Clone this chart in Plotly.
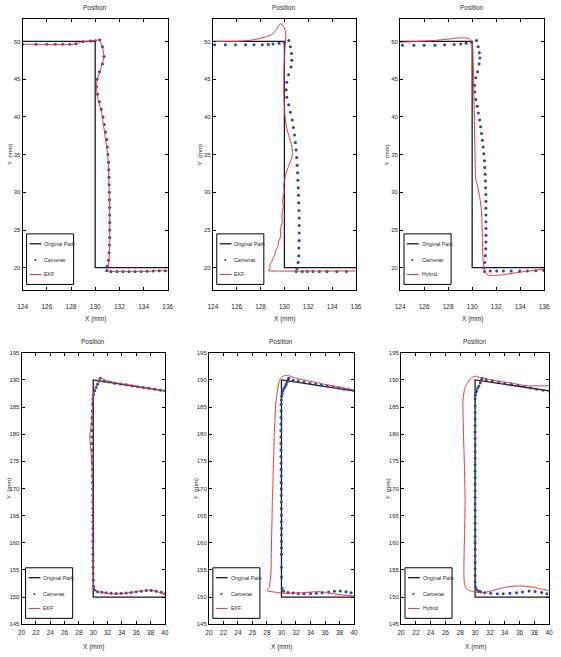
import plotly.graph_objects as go

W, H = 561, 657

# ---------------- data ----------------
top_xticks = [124, 126, 128, 130, 132, 134, 136]
top_yticks = [20, 25, 30, 35, 40, 45, 50]
bot_xticks = [20, 22, 24, 26, 28, 30, 32, 34, 36, 38, 40]
bot_yticks = [145, 150, 155, 160, 165, 170, 175, 180, 185, 190, 195]

path_top_x = [124, 130, 130, 136]
path_top_y = [50, 50, 20, 20]
path_bot_x = [40, 30, 30, 40]
path_bot_y = [188, 190, 150, 150]

# panel 1 (top-left, EKF)
cam1_x = [124.0, 125.1, 126.0, 126.7, 127.3, 127.9, 128.4, 129.0, 129.6, 130.0, 130.38,
          130.6, 130.73, 130.6, 130.35, 130.15, 130.1, 130.2, 130.35, 130.5, 130.65, 130.75,
          130.85, 130.95, 131.0, 131.05, 131.1, 131.12, 131.14, 131.15, 131.17, 131.18, 131.2,
          131.2, 131.2, 131.2, 131.2, 131.18, 131.15, 131.1, 131.0, 130.95,
          131.3, 131.8, 132.3, 132.8, 133.3, 133.8, 134.3, 134.8, 135.3, 135.8]
cam1_y = [49.64, 49.64, 49.64, 49.64, 49.64, 49.64, 49.7, 49.95, 50.05, 50.1, 50.18,
          49.3, 48.0, 47.0, 46.0, 45.0, 44.0, 43.0, 42.0, 41.0, 40.0, 39.0,
          38.0, 37.0, 36.0, 35.0, 34.0, 33.0, 32.0, 31.0, 30.0, 29.0, 28.0,
          27.0, 26.0, 25.0, 24.0, 23.0, 22.0, 21.0, 20.2, 19.6,
          19.5, 19.5, 19.5, 19.5, 19.5, 19.5, 19.52, 19.55, 19.6, 19.6]
est1_x = [124.0, 128.3, 128.9, 129.6, 130.38, 130.6, 130.73, 130.5, 130.2, 130.1, 130.2,
          130.5, 130.8, 131.06, 131.14, 131.2, 131.2, 131.14, 131.0, 130.95, 131.3, 134.0, 135.3, 136.0]
est1_y = [49.64, 49.64, 49.95, 50.05, 50.18, 49.3, 47.96, 46.6, 45.1, 44.0, 42.6,
          40.8, 37.7, 34.6, 31.1, 26.6, 23.1, 20.8, 19.9, 19.6, 19.5, 19.5, 19.6, 19.6]

# panel 2 (top-middle, EKF)
cam2_x = [124.15, 125.05, 125.9, 126.75, 127.45, 128.15, 128.65, 129.05, 129.55, 130.0, 130.37,
          130.5, 130.6, 130.62, 130.55, 130.35, 130.2, 130.15, 130.2, 130.35, 130.5, 130.65,
          130.75, 130.85, 130.92, 130.98, 131.03, 131.07, 131.1, 131.13, 131.16, 131.18, 131.2,
          131.22, 131.24, 131.24, 131.24, 131.24, 131.22, 131.2, 131.15, 131.05, 130.98,
          131.5, 131.93, 132.4, 132.93, 133.57, 134.39, 135.2]
cam2_y = [49.56, 49.56, 49.56, 49.56, 49.56, 49.58, 49.6, 49.65, 49.75, 49.9, 50.13,
          49.3, 48.4, 47.5, 46.6, 45.6, 44.6, 43.6, 42.6, 41.6, 40.6, 39.6,
          38.6, 37.6, 36.6, 35.6, 34.6, 33.6, 32.6, 31.6, 30.6, 29.6, 28.6,
          27.6, 26.6, 25.6, 24.6, 23.6, 22.6, 21.6, 20.7, 19.9, 19.5,
          19.5, 19.5, 19.5, 19.5, 19.5, 19.5, 19.5]
est2_x = [124.0, 125.5, 126.5, 127.3, 127.9, 128.5, 128.9, 129.2, 129.45, 129.6, 129.8, 130.0,
          130.12, 130.1, 130.02, 129.97, 129.96, 129.98, 130.05, 130.2, 130.4, 130.6, 130.68,
          130.6, 130.35, 130.1, 129.95, 129.98, 129.85, 129.9, 129.78, 129.82, 129.65, 129.7,
          129.5, 129.45, 129.25, 129.2, 129.0, 128.95, 128.75, 128.8, 128.68, 129.5, 131.0,
          133.0, 136.0]
est2_y = [50.0, 50.0, 50.05, 50.2, 50.4, 50.65, 50.9, 51.3, 51.9, 52.3, 52.3, 51.8,
          51.0, 50.2, 48.5, 46.5, 44.0, 42.0, 40.0, 38.5, 37.3, 36.3, 35.3,
          34.5, 33.5, 32.3, 31.0, 30.0, 29.0, 28.0, 27.0, 26.0, 25.0, 24.2,
          23.4, 22.8, 22.2, 21.7, 21.2, 20.8, 20.3, 20.0, 19.6, 19.56, 19.56,
          19.56, 19.56]

# panel 3 (top-right, Hybrid)
cam3_x = [124.2, 125.15, 126.0, 126.9, 127.7, 128.5, 129.05, 129.5, 129.95, 130.36,
          130.5, 130.6, 130.64, 130.58, 130.45, 130.3, 130.2, 130.22, 130.3, 130.42, 130.52,
          130.62, 130.7, 130.78, 130.85, 130.92, 130.97, 131.02, 131.05, 131.08, 131.1, 131.12,
          131.14, 131.15, 131.15, 131.15, 131.15, 131.15, 131.15, 131.15, 131.13, 131.1, 131.05,
          130.98, 131.04, 131.5, 132.05, 132.6, 133.25, 133.95, 134.6, 135.3, 135.95]
cam3_y = [49.5, 49.5, 49.5, 49.5, 49.55, 49.6, 49.65, 49.75, 49.9, 50.13,
          49.3, 48.5, 47.8, 47.0, 46.0, 45.2, 44.2, 43.3, 42.3, 41.4, 40.5,
          39.6, 38.7, 37.8, 36.9, 36.0, 35.1, 34.2, 33.3, 32.4, 31.5, 30.6,
          29.7, 28.8, 27.9, 27.0, 26.1, 25.2, 24.3, 23.4, 22.5, 21.6, 20.7,
          20.0, 19.5, 19.55, 19.55, 19.55, 19.55, 19.55, 19.55, 19.6, 19.65]
est3_x = [124.0, 125.4, 126.5, 127.3, 128.2, 128.7, 129.2, 129.7, 129.95, 130.05, 130.08,
          130.12, 130.15, 130.2, 130.25, 130.3, 130.45, 130.6, 130.75, 130.82, 130.85, 130.88,
          130.95, 131.1, 131.4, 132.2, 133.5, 134.9, 136.0]
est3_y = [49.9, 50.0, 50.1, 50.2, 50.35, 50.45, 50.5, 50.4, 50.1, 49.3, 47.5,
          45.0, 42.5, 38.0, 34.0, 31.8, 30.8, 29.6, 28.0, 26.0, 24.0, 22.0,
          20.2, 19.3, 19.0, 19.0, 19.3, 19.6, 19.8]

# panel 4 (bottom-left, EKF)
cam4_x = [40.0, 39.4, 38.6, 37.8, 37.0, 36.2, 35.4, 34.6, 33.8, 33.0, 32.2, 31.5, 30.97,
          30.8, 30.6, 30.4, 30.2, 30.05, 29.95, 29.9, 29.88, 29.85, 29.83, 29.82, 29.82,
          29.83, 29.85, 29.87, 29.88, 29.9, 29.9, 29.9, 29.91, 29.92, 29.93, 29.93, 29.94,
          29.94, 29.95, 29.95, 29.95, 29.96, 29.96, 29.96, 29.97, 29.98, 30.0, 30.05, 30.2,
          30.6, 31.2, 31.8, 32.5, 33.2, 33.9, 34.6, 35.3, 36.0, 36.7, 37.4, 38.1, 38.8, 39.5, 40.0]
cam4_y = [188.0, 188.1, 188.3, 188.45, 188.6, 188.75, 188.95, 189.1, 189.25, 189.4, 189.6, 189.75, 190.3,
          189.8, 189.2, 188.6, 188.0, 187.3, 186.5, 185.5, 184.3, 183.1, 181.9, 180.7, 179.5,
          178.3, 177.1, 175.9, 174.7, 173.5, 172.3, 171.1, 169.9, 168.7, 167.5, 166.3, 165.1,
          163.9, 162.7, 161.5, 160.3, 159.1, 157.9, 156.7, 155.5, 154.3, 153.1, 152.0, 151.3,
          151.0, 150.9, 150.8, 150.7, 150.65, 150.7, 150.75, 150.85, 151.0, 151.1, 151.2, 151.2, 151.1, 150.9, 150.6]
est4_x = [40.0, 38.0, 36.0, 34.0, 32.0, 31.0, 30.7, 30.3, 30.0, 29.88, 29.8, 29.65, 29.52,
          29.6, 29.75, 29.85, 29.9, 29.93, 29.95, 29.97, 30.0, 30.1, 30.4, 31.0, 32.0, 33.0,
          34.0, 35.0, 36.0, 37.0, 38.0, 39.0, 40.0]
est4_y = [188.0, 188.45, 188.85, 189.3, 189.8, 190.35, 189.8, 188.5, 187.2, 185.0, 183.0, 181.0, 179.6,
          178.0, 176.0, 173.0, 170.0, 165.0, 160.0, 156.0, 153.0, 151.8, 151.2, 150.9, 150.7, 150.6,
          150.6, 150.8, 151.0, 151.2, 151.3, 151.0, 150.5]

# panel 5 (bottom-middle, EKF)
cam5_x = [40.0, 39.3, 38.6, 37.9, 37.1, 36.3, 35.5, 34.7, 33.9, 33.1, 32.3, 31.6, 31.0,
          30.9, 30.8, 30.65, 30.5, 30.35, 30.2, 30.1, 30.02, 29.97, 29.95, 29.94, 29.93, 29.92,
          29.92, 29.92, 29.92, 29.93, 29.93, 29.94, 29.94, 29.95, 29.95, 29.96, 29.96, 29.97,
          29.97, 29.98, 29.98, 29.99, 29.99, 30.0, 30.0, 30.0, 30.0, 30.0, 30.1, 30.3,
          30.9, 31.6, 32.3, 33.1, 34.0, 34.8, 35.6, 36.5, 37.3, 38.1, 38.9, 39.6]
cam5_y = [188.0, 188.2, 188.3, 188.5, 188.7, 188.9, 189.05, 189.25, 189.4, 189.6, 189.8, 189.95, 190.3,
          190.0, 189.6, 189.2, 188.8, 188.4, 188.0, 187.5, 187.0, 186.3, 185.5, 184.3, 183.1, 181.9,
          180.7, 179.5, 178.3, 177.1, 175.9, 174.7, 173.5, 172.3, 171.1, 169.9, 168.7, 167.5,
          166.3, 165.1, 163.9, 162.7, 161.5, 160.3, 159.1, 157.9, 155.5, 153.7, 151.6, 151.1,
          150.85, 150.75, 150.65, 150.6, 150.65, 150.7, 150.8, 150.95, 151.1, 151.15, 151.0, 150.8]
est5_x = [40.0, 38.5, 37.2, 35.9, 34.95, 33.8, 32.7, 31.9, 31.35, 30.95, 30.68, 30.4, 30.2,
          29.9, 29.7, 29.46, 29.3, 29.19, 29.1, 29.0, 28.95, 28.87, 28.82, 28.74, 28.7, 28.65,
          28.6, 28.56, 28.45, 28.3, 28.1, 28.0, 28.2, 28.65, 29.5, 30.45, 31.5, 32.7, 33.8,
          34.95, 36.0, 37.2, 38.5, 40.0]
est5_y = [188.1, 188.55, 188.9, 189.2, 189.5, 189.8, 190.1, 190.35, 190.6, 190.8, 190.85, 190.8, 190.65,
          190.3, 189.8, 188.3, 186.8, 185.2, 182.5, 179.8, 176.7, 173.7, 170.5, 167.6, 164.5, 161.5,
          158.0, 154.8, 153.0, 151.8, 151.4, 151.2, 151.05, 151.0, 150.85, 150.7, 150.75, 150.8, 150.9,
          151.0, 150.9, 150.6, 150.4, 150.2]

# panel 6 (bottom-right, Hybrid)
cam6_x = [40.0, 39.2, 38.3, 37.5, 36.6, 35.8, 34.9, 34.0, 33.2, 32.3, 31.5, 30.96,
          30.85, 30.7, 30.52, 30.35, 30.2, 30.09, 30.03, 30.0, 30.0, 30.0, 30.0, 30.0, 30.0,
          30.0, 30.0, 30.0, 30.0, 30.0, 30.0, 30.0, 30.0, 30.0, 30.0, 30.0, 30.0, 30.0, 30.0,
          30.0, 30.0, 30.0, 30.0, 30.0, 30.0, 30.0, 30.0, 30.0, 30.05, 30.2, 30.5, 30.74,
          31.3, 32.1, 33.0, 33.8, 34.7, 35.6, 36.4, 37.3, 38.1, 39.0, 39.7]
cam6_y = [187.95, 188.1, 188.3, 188.5, 188.75, 189.0, 189.2, 189.4, 189.6, 189.85, 190.05, 190.3,
          190.0, 189.5, 188.9, 188.5, 188.0, 187.7, 187.2, 186.5, 185.2, 184.0, 182.8, 181.6, 180.4,
          179.2, 178.0, 176.8, 175.6, 174.4, 173.2, 172.0, 170.8, 169.6, 168.4, 167.2, 166.0, 164.8, 163.6,
          162.4, 161.2, 160.0, 158.8, 157.6, 156.4, 155.2, 154.0, 152.8, 151.9, 151.4, 151.1, 151.0,
          150.8, 150.7, 150.6, 150.6, 150.7, 150.8, 150.95, 151.15, 151.05, 150.85, 150.6]
est6_x = [40.0, 38.5, 37.26, 36.0, 35.1, 34.0, 32.9, 31.8, 30.7, 30.09, 29.65, 29.3, 29.0,
          28.75, 28.57, 28.45, 28.35, 28.38, 28.43, 28.5, 28.57, 28.62, 28.65, 28.62, 28.57,
          28.52, 28.48, 28.5, 28.57, 28.75, 29.0, 29.4, 29.87, 30.74, 31.8, 32.9, 34.0, 35.1,
          36.0, 36.8, 37.7, 38.6, 39.3, 40.0]
est6_y = [188.9, 188.9, 188.9, 189.1, 189.4, 189.6, 189.8, 190.1, 190.4, 190.7, 190.5, 190.1, 189.5,
          188.9, 188.3, 187.2, 185.9, 183.0, 179.8, 176.8, 173.7, 170.6, 167.6, 164.5, 161.5,
          158.5, 155.4, 153.6, 152.3, 151.7, 151.4, 151.15, 151.0, 150.8, 151.0, 151.4, 151.8, 152.0,
          152.05, 152.0, 151.85, 151.6, 151.4, 151.2]

series_names = ["Original Path", "Cameras"]
est_names = ["EKF", "EKF", "Hybrid", "EKF", "EKF", "Hybrid"]

# ---------------- styling ----------------
FONT = "Liberation Sans Narrow, Arial Narrow, Liberation Sans, Arial, sans-serif"
TXT = "#2a2a2a"
C_PATH = "#1a1a1a"
C_CAM = "#2b44a0"
C_EST = "#e8333f"

panels = [
    dict(cx=cam1_x, cy=cam1_y, ex=est1_x, ey=est1_y, px=path_top_x, py=path_top_y, row="top",
         box=(18, 166, 16, 290)),
    dict(cx=cam2_x, cy=cam2_y, ex=est2_x, ey=est2_y, px=path_top_x, py=path_top_y, row="top",
         box=(212, 358, 16, 290)),
    dict(cx=cam3_x, cy=cam3_y, ex=est3_x, ey=est3_y, px=path_top_x, py=path_top_y, row="top",
         box=(403, 550, 16, 290)),
    dict(cx=cam4_x, cy=cam4_y, ex=est4_x, ey=est4_y, px=path_bot_x, py=path_bot_y, row="bot",
         box=(17, 163, 353, 627)),
    dict(cx=cam5_x, cy=cam5_y, ex=est5_x, ey=est5_y, px=path_bot_x, py=path_bot_y, row="bot",
         box=(208, 356, 353, 627)),
    dict(cx=cam6_x, cy=cam6_y, ex=est6_x, ey=est6_y, px=path_bot_x, py=path_bot_y, row="bot",
         box=(404, 555, 353, 627)),
]

fig = go.Figure()
layout = dict(width=W, height=H, margin=dict(l=0, r=0, t=0, b=0),
              paper_bgcolor="white", plot_bgcolor="white", showlegend=False,
              font=dict(family=FONT, size=6.5, color=TXT))
shapes = []
annotations = []


def note(text, xref, yref, x, y, size=6.5, color=TXT, xanchor="center", angle=0):
    return dict(text=text, xref=xref, yref=yref, x=x, y=y, xanchor=xanchor, yanchor="middle",
                textangle=angle, showarrow=False, font=dict(family=FONT, size=size, color=color))


for i, p in enumerate(panels):
    n = i + 1
    sfx = "" if n == 1 else str(n)
    xa, ya = "x" + sfx, "y" + sfx
    l, r, t, b = p["box"]
    wpx, h = r - l, b - t
    fig.add_trace(go.Scatter(x=p["px"], y=p["py"], mode="lines", name=series_names[0],
                             line=dict(color=C_PATH, width=1.3), xaxis=xa, yaxis=ya))
    fig.add_trace(go.Scatter(x=p["cx"], y=p["cy"], mode="markers", name=series_names[1],
                             marker=dict(symbol="circle", size=3, color=C_CAM),
                             xaxis=xa, yaxis=ya))
    fig.add_trace(go.Scatter(x=p["ex"], y=p["ey"], mode="lines", name=est_names[i],
                             line=dict(color=C_EST, width=1, shape="spline", smoothing=0.4),
                             xaxis=xa, yaxis=ya))
    if p["row"] == "top":
        xr, yr, xt, yt, stand, xlab = [124, 136], [17, 53], top_xticks, top_yticks, 10, 29
    else:
        xr, yr, xt, yt, stand, xlab = [20, 40], [145, 195], bot_xticks, bot_yticks, 2, 23
    common = dict(showgrid=False, zeroline=False, showline=True, linecolor="black",
                  linewidth=1, mirror="ticks", ticks="inside", ticklen=3, tickcolor="black")
    layout["xaxis" + sfx] = dict(domain=[l / W, r / W], range=xr, tickvals=xt,
                                 anchor=ya, ticklabelstandoff=stand,
                                 tickfont=dict(family=FONT, size=6.5, color=TXT), **common)
    layout["yaxis" + sfx] = dict(domain=[1 - b / H, 1 - t / H], range=yr, tickvals=yt,
                                 anchor=xa, ticklabelstandoff=0,
                                 tickfont=dict(family=FONT, size=6, color=TXT), **common)
    xd, yd = xa + " domain", ya + " domain"
    annotations.append(note("Position", xd, yd, 0.5, 1 + 11 / h))
    annotations.append(note("X (mm)", xd, yd, 0.5, -xlab / h))
    annotations.append(note("Y  (mm)", xd, yd, -13.5 / wpx, 0.5, size=6, angle=-90))
    # legend box (drawn by hand, inside lower-left corner)
    lx0, lx1 = 4 / wpx, 52 / wpx
    ly0, ly1 = 6 / h, 57 / h
    shapes.append(dict(type="rect", xref=xd, yref=yd, x0=lx0, x1=lx1, y0=ly0, y1=ly1,
                       line=dict(color="black", width=1), fillcolor="white", layer="above"))
    rows_y = [47 / h, 31 / h, 16 / h]
    sx0, sx1 = 7 / wpx, 19 / wpx
    shapes.append(dict(type="line", xref=xd, yref=yd, x0=sx0, x1=sx1, y0=rows_y[0], y1=rows_y[0],
                       line=dict(color=C_PATH, width=1.3), layer="above"))
    shapes.append(dict(type="line", xref=xd, yref=yd, x0=sx0, x1=sx1, y0=rows_y[2], y1=rows_y[2],
                       line=dict(color=C_EST, width=1), layer="above"))
    annotations.append(note("•", xd, yd, (sx0 + sx1) / 2, rows_y[1], size=7, color=C_CAM))
    for txt, yy in zip([series_names[0], series_names[1], est_names[i]], rows_y):
        annotations.append(note(txt, xd, yd, 20 / wpx, yy, size=5.3, xanchor="left"))

layout["shapes"] = shapes
layout["annotations"] = annotations
fig.update_layout(**layout)
fig.write_html("out.html", config={"displayModeBar": False, "staticPlot": True},
               post_script="document.body.style.margin='0';document.body.style.overflow='hidden';")
